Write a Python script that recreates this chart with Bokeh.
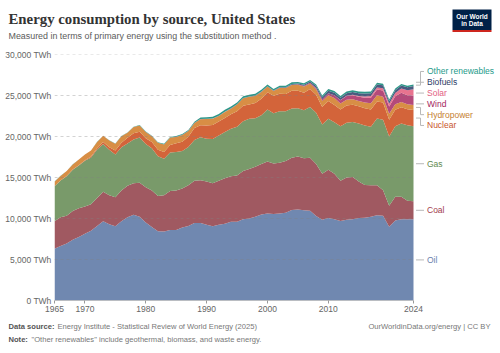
from bokeh.plotting import figure
from bokeh.layouts import column
from bokeh.models import ColumnDataSource, Range1d, FixedTicker
from bokeh.core.properties import value
from bokeh.embed import file_html
from bokeh.resources import INLINE

# ---------------- data (TWh, substitution method) ----------------
years = list(range(1965, 2025))

oil = [6300, 6650, 6950, 7400, 7750, 8150, 8500, 9100, 9650, 9300,
       9050, 9650, 10150, 10450, 10200, 9500, 8950, 8450, 8400, 8600,
       8600, 8900, 9100, 9450, 9450, 9250, 9050, 9250, 9350, 9600,
       9600, 9900, 10000, 10200, 10500, 10600, 10550, 10600, 10700, 11050,
       11100, 11000, 10950, 10300, 9850, 10050, 9900, 9700, 9850, 9900,
       10050, 10100, 10200, 10400, 10350, 9000, 9750, 9900, 9900, 9900]

coal = [3350, 3500, 3400, 3500, 3500, 3300, 3250, 3400, 3600, 3550,
        3550, 3750, 3850, 3850, 4150, 4300, 4450, 4300, 4450, 4750,
        4800, 4750, 4950, 5150, 5200, 5250, 5250, 5350, 5550, 5550,
        5650, 5900, 6050, 6100, 6150, 6350, 6150, 6200, 6300, 6350,
        6450, 6350, 6450, 6350, 5600, 5900, 5550, 4900, 5150, 5150,
        4450, 4000, 3850, 3650, 3100, 2550, 2900, 2750, 2250, 2200]

gas = [4280, 4480, 4800, 5040, 5200, 5590, 5690, 5920, 5840, 5520,
       5210, 5300, 5160, 5320, 5520, 5290, 5160, 4850, 4440, 4710,
       4700, 4570, 4660, 4960, 5260, 5240, 5390, 5510, 5650, 5780,
       5950, 6060, 6110, 5930, 5930, 6340, 6140, 6270, 6070, 6010,
       5900, 5850, 6200, 6260, 6010, 6220, 6290, 6660, 6690, 6710,
       7090, 7230, 7130, 8130, 8600, 8460, 8610, 8950, 9210, 9160]

nuclear = [10, 15, 21, 35, 39, 61, 106, 150, 231, 317,
           481, 531, 697, 767, 708, 697, 758, 783, 817, 911,
           1067, 1150, 1264, 1464, 1469, 1603, 1703, 1719, 1694, 1778,
           1869, 1875, 1747, 1869, 2022, 2094, 2130, 2150, 2100, 2160,
           2130, 2135, 2180, 2170, 2145, 2160, 2110, 2045, 2090, 2105,
           2095, 2110, 2100, 2095, 2090, 2035, 1995, 1970, 1970, 1980]

hydro = [547, 547, 617, 617, 694, 689, 739, 758, 756, 836,
         833, 789, 611, 778, 778, 767, 725, 858, 922, 892,
         781, 808, 694, 619, 736, 786, 778, 675, 750, 686,
         822, 919, 936, 844, 833, 703, 577, 706, 737, 716,
         733, 772, 669, 686, 733, 695, 849, 731, 709, 680,
         651, 696, 780, 756, 709, 740, 665, 644, 615, 612]

wind = [0, 0, 0, 0, 0, 0, 0, 0, 0, 0,
        0, 0, 0, 0, 0, 0, 0, 0, 0, 0,
        1, 2, 4, 5, 6, 8, 8, 8, 9, 9,
        9, 9, 9, 8, 13, 16, 19, 29, 31, 39,
        49, 73, 94, 150, 199, 255, 322, 377, 447, 482,
        504, 597, 665, 712, 766, 875, 979, 1112, 1085, 1152]

solar = [0, 0, 0, 0, 0, 0, 0, 0, 0, 0,
         0, 0, 0, 0, 0, 0, 0, 0, 0, 1,
         1, 1, 1, 1, 1, 1, 1, 1, 1, 1,
         1, 1, 1, 1, 1, 1, 1, 1, 1, 1,
         1, 1, 1, 4, 5, 8, 12, 27, 42, 72,
         102, 143, 200, 241, 275, 332, 416, 517, 597, 756]

biofuels = [0, 0, 0, 0, 0, 0, 0, 0, 0, 0,
            0, 0, 0, 0, 0, 0, 3, 6, 10, 15,
            20, 22, 23, 23, 24, 20, 22, 25, 28, 30,
            32, 25, 30, 33, 33, 36, 40, 48, 63, 77,
            90, 120, 160, 225, 255, 300, 310, 300, 310, 330,
            335, 355, 360, 360, 355, 310, 340, 365, 390, 410]

other_renewables = [10, 10, 12, 12, 14, 15, 17, 20, 22, 25,
                    28, 30, 35, 38, 40, 45, 50, 55, 65, 75,
                    85, 95, 110, 130, 160, 190, 200, 210, 215, 220,
                    215, 215, 215, 215, 215, 210, 190, 195, 200, 200,
                    200, 200, 200, 205, 205, 210, 210, 210, 215, 220,
                    220, 215, 215, 210, 200, 195, 195, 190, 185, 180]

sources = ["Oil", "Coal", "Gas", "Nuclear", "Hydropower", "Wind", "Solar",
           "Biofuels", "Other renewables"]
series = [oil, coal, gas, nuclear, hydro, wind, solar, biofuels, other_renewables]

y_ticks = [0, 5000, 10000, 15000, 20000, 25000, 30000]
y_tick_labels = ["0 TWh", "5,000 TWh", "10,000 TWh", "15,000 TWh", "20,000 TWh",
                 "25,000 TWh", "30,000 TWh"]
x_ticks = [1965, 1970, 1980, 1990, 2000, 2010, 2024]

title = "Energy consumption by source, United States"
subtitle = "Measured in terms of primary energy using the substitution method ."
source_note = "Energy Institute - Statistical Review of World Energy (2025)"
note_text = "\"Other renewables\" include geothermal, biomass, and waste energy."
credit = "OurWorldinData.org/energy | CC BY"

# ---------------- styles ----------------
fill_colors = ["#7088b0", "#a05961", "#799a6a", "#d3643a", "#d88e45",
               "#b44a7a", "#e8738f", "#4a5a80", "#2e9688"]
label_colors = ["#6a82ad", "#a13c4b", "#5f8a50", "#c8552b", "#c47e30",
                "#a3245c", "#e3607f", "#2c3b66", "#1d9a8a"]

SANS = "Liberation Sans"
W = 500
HEAD_H, MAIN_H, FOOT_H = 44, 274, 35
LEFT = 54
FRAME_TOP = 10          # frame top at canvas y = 54
FRAME_BOTTOM = 18       # frame bottom at canvas y = 300
PX_PER_YEAR = 359 / (years[-1] - years[0])
X_END = years[0] + (W - 5 - LEFT) / PX_PER_YEAR
Y_MAX = y_ticks[-1]
PX_PER_TWH = (MAIN_H - FRAME_TOP - FRAME_BOTTOM) / Y_MAX


def blank_fig(h):
    f = figure(width=W, height=h, output_backend="svg", toolbar_location=None,
               x_range=Range1d(0, W), y_range=Range1d(h, 0),
               x_axis_type=None, y_axis_type=None, frame_align=False,
               min_border=0, min_border_left=0, min_border_right=0,
               min_border_top=0, min_border_bottom=0)
    f.outline_line_color = None
    f.grid.visible = False
    f.background_fill_color = "white"
    f.border_fill_color = "white"
    return f


def txt(f, x, y, text, size, color, font=SANS, style="normal", align="left"):
    f.text(x=[x], y=[y], text=[text], text_font=value(font),
           text_font_size=value(size), text_color=color,
           text_font_style=value(style), text_align=value(align),
           text_baseline=value("middle"))


# ---------------- header ----------------
head = blank_fig(HEAD_H)
txt(head, 8, 18.5, title, "14.8px", "#333333", font="Liberation Serif", style="bold")
txt(head, 8, 35, subtitle, "8.9px", "#5b5b5b")
head.quad(left=[452], right=[491], top=[9], bottom=[29.5], fill_color="#002147",
          line_color=None)
head.quad(left=[452], right=[491], top=[29.5], bottom=[31.5], fill_color="#ce261e",
          line_color=None)
txt(head, 471.5, 15.5, "Our World", "6.5px", "white", style="bold", align="center")
txt(head, 471.5, 23, "in Data", "6.5px", "white", style="bold", align="center")

# ---------------- main chart ----------------
p = figure(width=W, height=MAIN_H, output_backend="svg", toolbar_location=None,
           x_range=Range1d(years[0], X_END), y_range=Range1d(0, Y_MAX),
           min_border_left=LEFT, min_border_right=5, min_border_top=FRAME_TOP,
           min_border_bottom=FRAME_BOTTOM, frame_align=False)
p.outline_line_color = None
p.background_fill_color = "white"
p.border_fill_color = "white"
p.xgrid.grid_line_color = None
p.ygrid.grid_line_color = None

data = {"year": years}
for name, s in zip(sources, series):
    data[name] = s
src = ColumnDataSource(data)
p.varea_stack(stackers=sources, x="year", color=fill_colors, source=src)

grid_vals = y_ticks[1:]
p.segment(x0=[years[0]] * len(grid_vals), x1=[years[-1]] * len(grid_vals),
          y0=grid_vals, y1=grid_vals, line_color="#808080", line_alpha=0.35,
          line_width=1, line_dash="3 3")
p.segment(x0=[years[0]], x1=[years[-1]], y0=[0], y1=[0],
          line_color="#999999", line_width=1)

p.yaxis.ticker = FixedTicker(ticks=y_ticks)
p.yaxis.major_label_overrides = {t: l for t, l in zip(y_ticks, y_tick_labels)}
p.yaxis.axis_line_color = None
p.yaxis.major_tick_line_color = None
p.yaxis.minor_tick_line_color = None
p.yaxis.major_tick_out = 0
p.yaxis.major_tick_in = 0
p.yaxis.major_label_standoff = 3
p.yaxis.major_label_text_font = SANS
p.yaxis.major_label_text_font_size = "8.5px"
p.yaxis.major_label_text_color = "#666666"

p.xaxis.ticker = FixedTicker(ticks=x_ticks)
p.xaxis.axis_line_color = None
p.xaxis.major_tick_line_color = "#999999"
p.xaxis.minor_tick_line_color = None
p.xaxis.major_tick_out = 3
p.xaxis.major_tick_in = 0
p.xaxis.major_label_standoff = 2
p.xaxis.major_label_text_font = SANS
p.xaxis.major_label_text_font_size = "8.5px"
p.xaxis.major_label_text_color = "#666666"

# right-hand labels with collision avoidance
ends = [s[-1] for s in series]
mids = []
acc = 0
for v in ends:
    mids.append(acc + v / 2)
    acc += v

gap = 10.8 / PX_PER_TWH
order = sorted(range(len(sources)), key=lambda i: mids[i])
groups = []
for i in order:
    groups.append([[i], mids[i]])
    while len(groups) > 1:
        g1, g2 = groups[-2], groups[-1]
        top1 = g1[1] + (len(g1[0]) - 1) * gap / 2
        bot2 = g2[1] - (len(g2[0]) - 1) * gap / 2
        if bot2 - top1 < gap:
            members = g1[0] + g2[0]
            center = sum(mids[j] for j in members) / len(members)
            groups[-2:] = [[members, center]]
        else:
            break
label_y = [0.0] * len(sources)
for members, center in groups:
    m = len(members)
    for k, j in enumerate(members):
        label_y[j] = center + (k - (m - 1) / 2) * gap

x_start = years[-1] + 2.5 / PX_PER_YEAR
x_elbow = years[-1] + 7 / PX_PER_YEAR
x_end = years[-1] + 10.5 / PX_PER_YEAR
x_text = years[-1] + 13.5 / PX_PER_YEAR
xs, ys = [], []
for j in range(len(sources)):
    if abs(label_y[j] - mids[j]) < 0.5 * gap:
        xs.append([x_start, x_end])
        ys.append([label_y[j], label_y[j]])
    else:
        xs.append([x_start, x_elbow, x_elbow, x_end])
        ys.append([mids[j], mids[j], label_y[j], label_y[j]])
p.multi_line(xs=xs, ys=ys, line_color="#b8b8b8", line_width=1)

lab_src = ColumnDataSource(dict(x=[x_text] * len(sources), y=label_y,
                                text=sources, color=label_colors))
p.text(x="x", y="y", text="text", text_color="color", source=lab_src,
       text_font=value(SANS), text_font_size=value("8.5px"),
       text_baseline="middle", text_align="left")

# ---------------- footer ----------------
foot = blank_fig(FOOT_H)
txt(foot, 8, 8, "Data source:", "7.6px", "#555555", style="bold")
txt(foot, 57, 8, source_note, "7.6px", "#777777")
txt(foot, 8, 21, "Note:", "7.6px", "#555555", style="bold")
txt(foot, 31, 21, note_text, "7.6px", "#777777")
txt(foot, 490, 8, credit, "7.6px", "#777777", align="right")

layout = column(head, p, foot, spacing=0)
open("out.html", "w").write(file_html(layout, INLINE))
